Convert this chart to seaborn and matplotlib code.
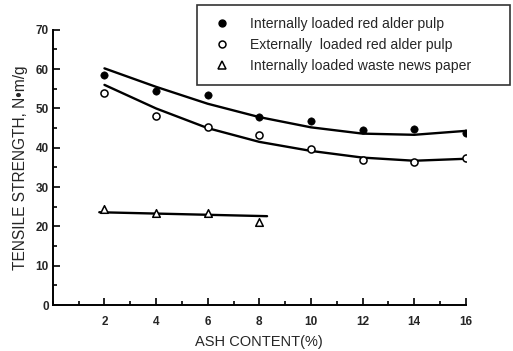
import matplotlib
matplotlib.use('Agg')
import matplotlib.pyplot as plt
import seaborn as sns
from matplotlib.ticker import MultipleLocator, FixedLocator
from matplotlib.lines import Line2D

# ash content (%)
ash = [2, 4, 6, 8, 10, 12, 14, 16]
ash_news = [2, 4, 6, 8]

# measured tensile strength, N.m/g
internal_alder = [58.5, 54.5, 53.3, 47.8, 46.7, 44.5, 44.8, 43.8]
external_alder = [54.0, 48.0, 45.3, 43.3, 39.8, 37.0, 36.5, 37.3]
internal_news = [24.3, 23.3, 23.5, 21.0]

# fitted curves
fit_internal = [60.2, 55.5, 51.2, 47.8, 45.2, 43.6, 43.3, 44.3]
fit_external = [56.0, 50.0, 45.0, 41.5, 39.2, 37.5, 36.7, 37.2]
fit_news_x = [1.8, 8.3]
fit_news = [23.6, 22.6]

labels = ['Internally loaded red alder pulp',
          'Externally  loaded red alder pulp',
          'Internally loaded waste news paper']

sns.set_style('ticks')
plt.rcParams['font.family'] = ['Liberation Sans', 'DejaVu Sans']

fig = plt.figure(figsize=(5.13, 3.51), dpi=100)
ax = fig.add_axes([0.103, 0.131, 0.805, 0.784])

line_kw = dict(color='black', lw=1.7)
sns.lineplot(x=ash, y=fit_internal, ax=ax, **line_kw)
sns.lineplot(x=ash, y=fit_external, ax=ax, **line_kw)
sns.lineplot(x=fit_news_x, y=fit_news, ax=ax, **line_kw)

sns.scatterplot(x=ash, y=internal_alder, ax=ax, s=28, color='black', marker='o',
                edgecolor='black', zorder=3)
sns.scatterplot(x=ash, y=external_alder, ax=ax, s=26, facecolor='white', marker='o',
                edgecolor='black', linewidth=1.1, zorder=3)
sns.scatterplot(x=ash_news, y=internal_news, ax=ax, s=30, facecolor='white', marker='^',
                edgecolor='black', linewidth=1.1, zorder=3)

ax.set_xlim(0, 16)
ax.set_ylim(0, 70)
ax.xaxis.set_major_locator(FixedLocator([2, 4, 6, 8, 10, 12, 14, 16]))
ax.xaxis.set_minor_locator(MultipleLocator(1))
ax.yaxis.set_major_locator(MultipleLocator(10))
ax.yaxis.set_minor_locator(MultipleLocator(5))
ax.tick_params(which='both', direction='in', color='black', width=1.2)
ax.tick_params(which='major', length=5, labelsize=8.5)
ax.tick_params(axis='x', which='major', pad=8)
ax.tick_params(axis='y', which='major', pad=3)
ax.tick_params(which='minor', length=3)
for t in ax.get_xticklabels() + ax.get_yticklabels():
    t.set_fontweight('bold')
for s in ['left', 'bottom']:
    ax.spines[s].set_linewidth(1.4)
    ax.spines[s].set_color('black')
sns.despine(ax=ax)

ax.set_xlabel('ASH CONTENT(%)', fontsize=10.5, labelpad=5)
ax.set_ylabel('TENSILE STRENGTH, N\u2022m/g', fontsize=11.2, labelpad=5)

handles = [
    Line2D([], [], ls='none', marker='o', color='black', markersize=5),
    Line2D([], [], ls='none', marker='o', markerfacecolor='white', markeredgecolor='black',
           markeredgewidth=1.1, markersize=5),
    Line2D([], [], ls='none', marker='^', markerfacecolor='white', markeredgecolor='black',
           markeredgewidth=1.1, markersize=5.5),
]
leg = fig.legend(handles, labels, loc='upper left',
                 bbox_to_anchor=(197 / 513, 1 - 80 / 351, 313 / 513, 75 / 351), mode='expand',
                 fontsize=10.1, frameon=True, fancybox=False, edgecolor='black',
                 borderpad=0.85, labelspacing=0.5, handletextpad=1.07, handlelength=1.86,
                 borderaxespad=0)
leg.get_frame().set_linewidth(1.2)

fig.savefig('out.png', dpi=100)
